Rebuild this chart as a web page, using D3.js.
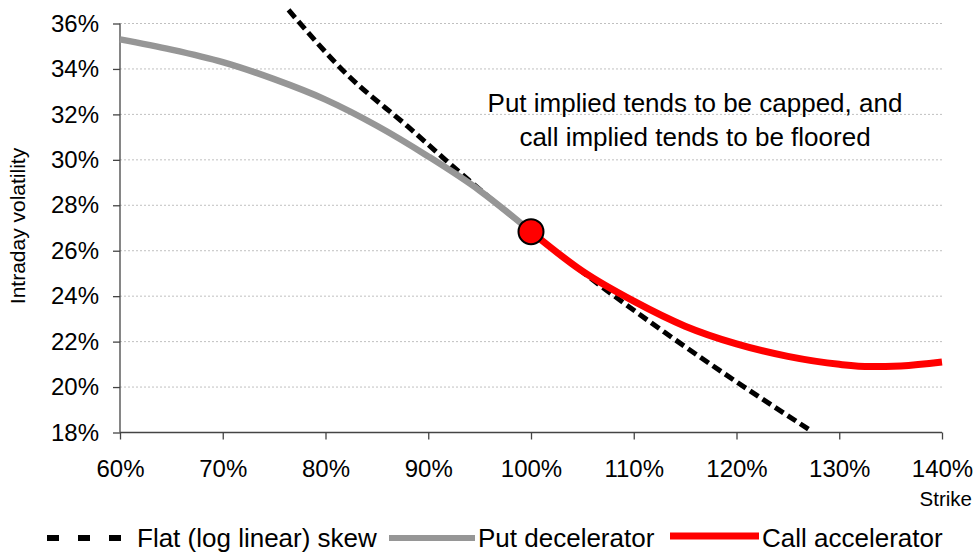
<!DOCTYPE html>
<html><head><meta charset="utf-8">
<script src="https://cdn.jsdelivr.net/npm/d3@7"></script>
<style>body{margin:0;background:#fff}text{font-family:"Liberation Sans",Arial,sans-serif;fill:#000}</style>
</head><body><svg id="c" width="979" height="554"></svg>
<script>
const xTicks = [60,70,80,90,100,110,120,130,140];
const yTicks = [18,20,22,24,26,28,30,32,34,36];
// Flat (log linear) skew
const flatStrike = [76.4, 82, 88, 94, 100, 106, 113, 120, 127];
const flatVol    = [36.6, 33.8, 31.47, 29.08, 26.84, 24.72, 22.41, 20.23, 18.15];
// Put decelerator
const putStrike = [60, 65, 70, 75, 80, 85, 90, 95, 100];
const putVol    = [35.3, 34.85, 34.3, 33.55, 32.65, 31.5, 30.15, 28.65, 26.84];
// Call accelerator
const callStrike = [100, 105, 110, 115, 120, 125, 130, 133, 136, 140];
const callVol    = [26.84, 25.1, 23.78, 22.68, 21.9, 21.35, 21.0, 20.9, 20.93, 21.1];
const atmStrike = 100, atmVol = 26.84;
const legendLabels = ["Flat (log linear) skew","Put decelerator","Call accelerator"];
const noteLines = ["Put implied tends to be capped, and","call implied tends to be floored"];

const svg = d3.select("#c");
const x = d3.scaleLinear().domain([60,140]).range([120,942]);
const y = d3.scaleLinear().domain([18,36]).range([432.5,23.5]);

// gridlines
svg.append("g").selectAll("line").data(yTicks.filter(d=>d>18)).join("line")
  .attr("x1",x(60)).attr("x2",x(140)).attr("y1",d=>y(d)).attr("y2",d=>y(d))
  .attr("stroke","#c0c0c0").attr("stroke-width",1).attr("stroke-dasharray","2,2");

// axes
const axisColor="#444";
const gy = svg.append("g").attr("transform",`translate(${x(60)},0)`)
  .call(d3.axisLeft(y).tickValues(yTicks).tickFormat(d=>d+"%").tickSize(7).tickPadding(14));
const gx = svg.append("g").attr("transform",`translate(0,${y(18)})`)
  .call(d3.axisBottom(x).tickValues(xTicks).tickFormat(d=>d+"%").tickSize(7).tickPadding(16));
[gx,gy].forEach(g=>{
  g.select(".domain").attr("stroke",axisColor).attr("stroke-width",1.3);
  g.selectAll(".tick line").attr("stroke",axisColor).attr("stroke-width",1.3);
  g.selectAll(".tick text").attr("font-size",24).attr("font-family","Liberation Sans, Arial, sans-serif").attr("fill","#000");
});
gy.select(".domain").attr("d",`M0,${y(36)}V${y(18)}`);
gx.select(".domain").attr("d",`M${x(60)},0H${x(140)}`);
gx.selectAll(".tick text").attr("dy","0.9em");

// axis titles
svg.append("text").attr("x",972).attr("y",506).attr("text-anchor","end").attr("font-size",20.5).text("Strike");
svg.append("text").attr("transform","translate(25,226) rotate(-90)").attr("text-anchor","middle").attr("font-size",21).text("Intraday volatility");

const line = d3.line().x(d=>x(d[0])).y(d=>y(d[1])).curve(d3.curveMonotoneX);
const flat = flatStrike.map((s,i)=>[s,flatVol[i]]);
const put = putStrike.map((s,i)=>[s,putVol[i]]);
const call = callStrike.map((s,i)=>[s,callVol[i]]);

svg.append("path").attr("d",line(flat)).attr("fill","none").attr("stroke","#000").attr("stroke-width",5).attr("stroke-dasharray","10,5");
svg.append("path").attr("d",line(put)).attr("fill","none").attr("stroke","#969696").attr("stroke-width",6.5);
svg.append("path").attr("d",line(call)).attr("fill","none").attr("stroke","#ff0000").attr("stroke-width",7);
svg.append("circle").attr("cx",x(atmStrike)).attr("cy",y(atmVol)).attr("r",12.5).attr("fill","#ff0000").attr("stroke","#000").attr("stroke-width",2);

// annotation
svg.append("text").attr("x",695).attr("y",112).attr("text-anchor","middle").attr("font-size",26).text(noteLines[0]);
svg.append("text").attr("x",695).attr("y",146).attr("text-anchor","middle").attr("font-size",26).text(noteLines[1]);

// legend
const ly = 538, lb = 547;
svg.append("line").attr("x1",47).attr("x2",121).attr("y1",ly).attr("y2",ly).attr("stroke","#000").attr("stroke-width",6).attr("stroke-dasharray","12,19");
svg.append("text").attr("x",137).attr("y",lb).attr("font-size",26).text(legendLabels[0]);
svg.append("line").attr("x1",389).attr("x2",475).attr("y1",ly).attr("y2",ly).attr("stroke","#969696").attr("stroke-width",6);
svg.append("text").attr("x",478).attr("y",lb).attr("font-size",26).text(legendLabels[1]);
svg.append("line").attr("x1",670).attr("x2",759).attr("y1",ly-2).attr("y2",ly-2).attr("stroke","#ff0000").attr("stroke-width",7);
svg.append("text").attr("x",762).attr("y",lb).attr("font-size",26).text(legendLabels[2]);
</script></body></html>
